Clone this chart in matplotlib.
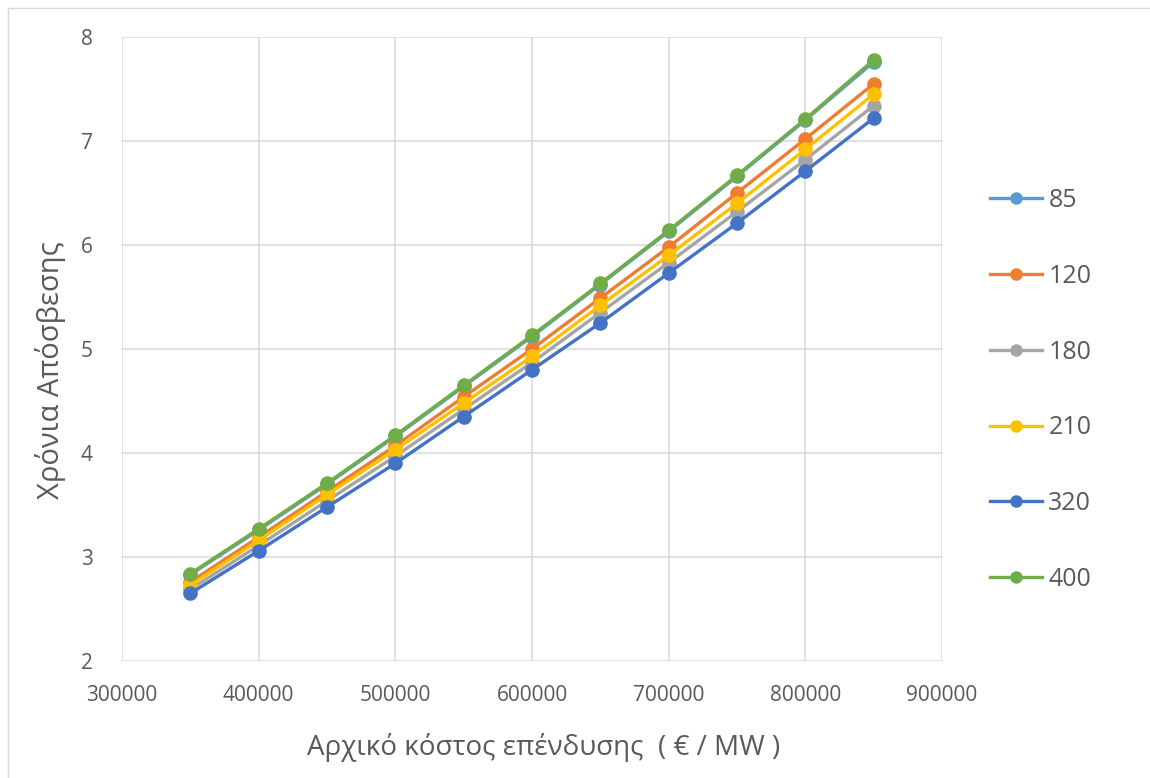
import matplotlib
matplotlib.use("Agg")
import matplotlib.pyplot as plt
from matplotlib.lines import Line2D
from matplotlib.patches import Rectangle

plt.rcParams['font.family'] = ['Open Sans', 'DejaVu Sans']

# Initial investment cost (€/MW)
cost = [350000, 400000, 450000, 500000, 550000, 600000,
        650000, 700000, 750000, 800000, 850000]

series_labels = ['85', '120', '180', '210', '320', '400']
payback_85 = [2.83, 3.26, 3.70, 4.16, 4.64, 5.12, 5.62, 6.13, 6.66, 7.20, 7.76]
payback_120 = [2.76, 3.19, 3.63, 4.07, 4.54, 5.00, 5.49, 5.98, 6.50, 7.02, 7.55]
payback_180 = [2.69, 3.11, 3.54, 3.97, 4.42, 4.87, 5.35, 5.83, 6.32, 6.82, 7.34]
payback_210 = [2.73, 3.16, 3.60, 4.03, 4.48, 4.93, 5.42, 5.90, 6.40, 6.92, 7.45]
payback_320 = [2.65, 3.06, 3.48, 3.90, 4.35, 4.80, 5.25, 5.73, 6.21, 6.71, 7.22]
payback_400 = [2.84, 3.27, 3.71, 4.17, 4.65, 5.13, 5.63, 6.14, 6.67, 7.21, 7.78]

series_values = [payback_85, payback_120, payback_180,
                 payback_210, payback_320, payback_400]
colors = ['#5B9BD5', '#ED7D31', '#A5A5A5', '#FFC000', '#4472C4', '#70AD47']

x_ticks = [300000, 400000, 500000, 600000, 700000, 800000, 900000]
y_ticks = [2, 3, 4, 5, 6, 7, 8]

W, H = 1150, 778
fig = plt.figure(figsize=(W / 100, H / 100), dpi=100)
ax = fig.add_axes([122 / W, 1 - 661 / H, (942 - 122) / W, (661 - 37) / H])

# outer chart frame
fig.patches.append(Rectangle((8 / W, -0.1), 1.2, 1 - 8 / H + 0.1,
                             transform=fig.transFigure, fill=False,
                             edgecolor='#D9D9D9', linewidth=1.0))

for vals, c, lab in zip(series_values, colors, series_labels):
    ax.plot(cost, vals, color=c, linewidth=2.4, marker='o',
            markersize=9.5, label=lab, solid_capstyle='round')

ax.set_xlim(300000, 900000)
ax.set_ylim(2, 8)
ax.set_xticks(x_ticks)
ax.set_yticks(y_ticks)
ax.set_xticklabels([str(v) for v in x_ticks])
ax.set_yticklabels([str(v) for v in y_ticks])
ax.grid(True, color='#D9D9D9', linewidth=1.1)
ax.set_axisbelow(True)
for s in ax.spines.values():
    s.set_visible(False)
ax.tick_params(length=0, labelsize=15, colors='#595959')
ax.tick_params(axis='x', pad=17)
ax.tick_params(axis='y', pad=21)

fig.text(544 / W, 1 - 748 / H, 'Αρχικό κόστος επένδυσης  ( € / MW )',
         fontsize=20, color='#595959', ha='center', va='center')
fig.text(51 / W, 1 - 370 / H, 'Χρόνια Απόσβεσης', fontsize=21,
         color='#595959', ha='center', va='center', rotation=90)

handles = [Line2D([0], [0], color=c, linewidth=2.4, marker='o', markersize=8)
           for c in colors]
fig.legend(handles, series_labels, loc='center left',
           bbox_to_anchor=(967 / W, 1 - 390 / H), frameon=False,
           fontsize=18, labelcolor='#595959', labelspacing=2.03,
           handlelength=2.1, handletextpad=0.25)

fig.savefig('out.png', dpi=100)
